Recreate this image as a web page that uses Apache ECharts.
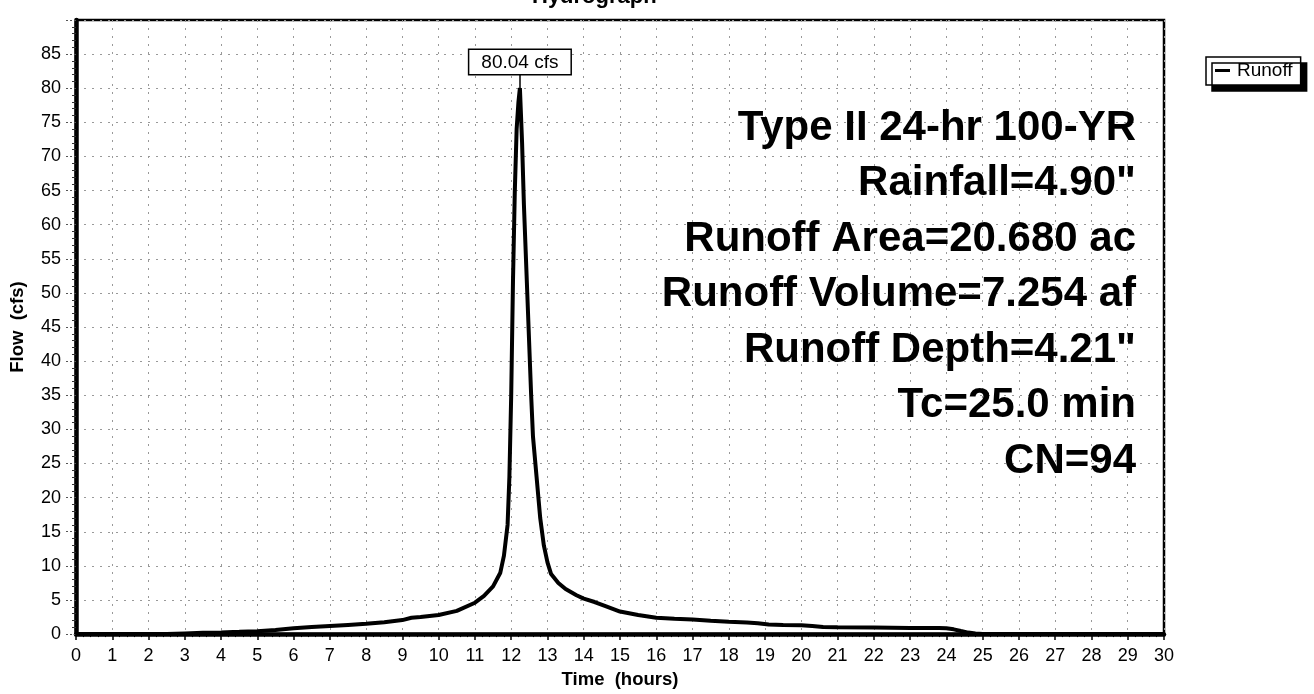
<!DOCTYPE html>
<html>
<head>
<meta charset="utf-8">
<script src="https://cdn.jsdelivr.net/npm/echarts@6/dist/echarts.min.js"></script>
<style>
  html, body { margin: 0; padding: 0; background: #fff; }
  #hydrograph { width: 1314px; height: 694px; }
</style>
</head>
<body>
<div id="hydrograph"></div>
<script>
  // runoff hydrograph
  const hours = [0, 1, 2, 2.5, 3, 3.5, 4, 4.5, 5, 5.5,
    6, 6.5, 7, 7.5, 8, 8.5, 9, 9.25, 9.5, 10,
    10.5, 11, 11.25, 11.5, 11.7, 11.8, 11.9, 11.95, 12.0, 12.05,
    12.1, 12.15, 12.2, 12.24, 12.3, 12.35, 12.4, 12.45, 12.5, 12.55,
    12.6, 12.7, 12.8, 12.9, 13.0, 13.1, 13.3, 13.5, 13.8, 14.0,
    14.3, 14.6, 15.0, 15.5, 16.0, 16.5, 17.0, 17.5, 18.0, 18.5,
    18.8, 19.1, 19.5, 20.0, 20.3, 20.6, 21.0, 22.0, 23.0, 23.8,
    24.0, 24.2, 24.4, 24.6, 24.8, 25.0, 26, 30];
  const flow = [0, 0, 0, 0.02, 0.1, 0.18, 0.25, 0.33, 0.42, 0.6,
    0.85, 1.05, 1.2, 1.35, 1.5, 1.75, 2.05, 2.4, 2.5, 2.8,
    3.4, 4.6, 5.6, 7.0, 9.0, 11.5, 16, 23, 35, 52,
    65, 74, 78, 80.04, 72, 63, 56, 49, 42, 35,
    29, 23, 17, 13, 10.5, 8.8, 7.5, 6.6, 5.7, 5.2,
    4.7, 4.1, 3.3, 2.8, 2.4, 2.25, 2.15, 1.95, 1.8, 1.7,
    1.6, 1.4, 1.35, 1.3, 1.2, 1.05, 1.0, 0.95, 0.9, 0.88,
    0.85, 0.7, 0.45, 0.22, 0.08, 0.02, 0, 0];

  const peakLabel = '80.04 cfs';
  const summaryLines = [
    'Type II 24-hr 100-YR',
    'Rainfall=4.90"',
    'Runoff Area=20.680 ac',
    'Runoff Volume=7.254 af',
    'Runoff Depth=4.21"',
    'Tc=25.0 min',
    'CN=94'
  ];

  const font = '"Liberation Sans", Arial, Helvetica, sans-serif';

  let peakIdx = 0;
  flow.forEach((q, i) => { if (q > flow[peakIdx]) peakIdx = i; });
  const peakT = hours[peakIdx];
  const peakQ = flow[peakIdx];

  let chart = echarts.init(document.getElementById('hydrograph'));

  // one text element per line, all flush right
  let summaryText = summaryLines.map((line, i) => ({
    type: 'text',
    right: 178,
    top: 107 + i * 55.5,
    z: 10,
    style: {
      text: line,
      fill: '#000',
      font: 'bold 42px ' + font
    }
  }));

  let option = {
    animation: false,
    backgroundColor: '#fff',
    title: {
      text: 'Hydrograph',
      left: 532,
      top: -14,
      padding: 0,
      textStyle: { fontFamily: font, fontSize: 22, fontWeight: 'bold', color: '#000' }
    },
    legend: {
      data: ['Runoff'],
      left: 1206,
      top: 57,
      padding: [4, 8, 5, 9],
      itemWidth: 15,
      itemHeight: 3,
      itemGap: 8,
      icon: 'rect',
      backgroundColor: '#fff',
      borderColor: '#000',
      borderWidth: 1.5,
      borderRadius: 0,
      shadowColor: '#000',
      shadowBlur: 0,
      shadowOffsetX: 6,
      shadowOffsetY: 6,
      textStyle: { fontFamily: font, fontSize: 19, color: '#000', padding: [0, 0, 0, 2] }
    },
    grid: {
      left: 75,
      right: 150,
      top: 20,
      bottom: 55,
      show: true,
      borderColor: '#000',
      borderWidth: 2.5,
      containLabel: false
    },
    xAxis: {
      type: 'value',
      min: 0,
      max: 30,
      interval: 1,
      name: 'Time  (hours)',
      nameLocation: 'middle',
      nameGap: 30,
      nameTextStyle: { fontFamily: font, fontSize: 18.5, fontWeight: 'bold', color: '#000' },
      axisLine: { show: true, lineStyle: { color: '#000', width: 4.5 } },
      axisTick: { show: true, inside: false, length: 6, lineStyle: { color: '#000', width: 1.5 } },
      minorTick: { show: true, splitNumber: 5, length: 3, lineStyle: { color: '#000', width: 1 } },
      axisLabel: { fontFamily: font, fontSize: 18, color: '#000', margin: 13 },
      splitLine: { show: true, lineStyle: { color: '#999', width: 1, type: [2, 6] } }
    },
    yAxis: {
      type: 'value',
      min: 0,
      max: 90,
      interval: 5,
      name: 'Flow  (cfs)',
      nameLocation: 'middle',
      nameGap: 49,
      nameRotate: 90,
      nameTextStyle: { fontFamily: font, fontSize: 18.5, fontWeight: 'bold', color: '#000' },
      axisLine: { show: true, lineStyle: { color: '#000', width: 4.5 } },
      axisTick: { show: true, inside: false, length: 12, lineStyle: { color: '#555', width: 1, type: [2, 2] } },
      minorTick: { show: true, splitNumber: 5, length: 4, lineStyle: { color: '#333', width: 1 } },
      axisLabel: { fontFamily: font, fontSize: 18, color: '#000', margin: 15, showMaxLabel: false },
      splitLine: { show: true, lineStyle: { color: '#999', width: 1, type: [2, 6] } }
    },
    graphic: summaryText,
    series: [{
      name: 'Runoff',
      type: 'line',
      showSymbol: false,
      symbol: 'none',
      data: hours.map((h, i) => [h, flow[i]]),
      lineStyle: { color: '#000', width: 4 },
      itemStyle: { color: '#000' },
      z: 5,
      markLine: {
        silent: true,
        symbol: ['none', 'none'],
        label: { show: false },
        lineStyle: { color: '#000', width: 1.5, type: 'solid' },
        data: [[{ coord: [peakT, peakQ] }, { coord: [peakT, peakQ + 2] }]]
      },
      markPoint: {
        silent: true,
        symbol: 'circle',
        symbolSize: 0,
        data: [{ coord: [peakT, peakQ] }],
        label: {
          show: true,
          position: 'top',
          distance: 14,
          formatter: peakLabel,
          fontFamily: font,
          fontSize: 19,
          color: '#000',
          backgroundColor: '#fff',
          borderColor: '#000',
          borderWidth: 1.5,
          padding: [3, 12, 2, 12]
        }
      }
    }]
  };

  chart.setOption(option);
</script>
</body>
</html>
